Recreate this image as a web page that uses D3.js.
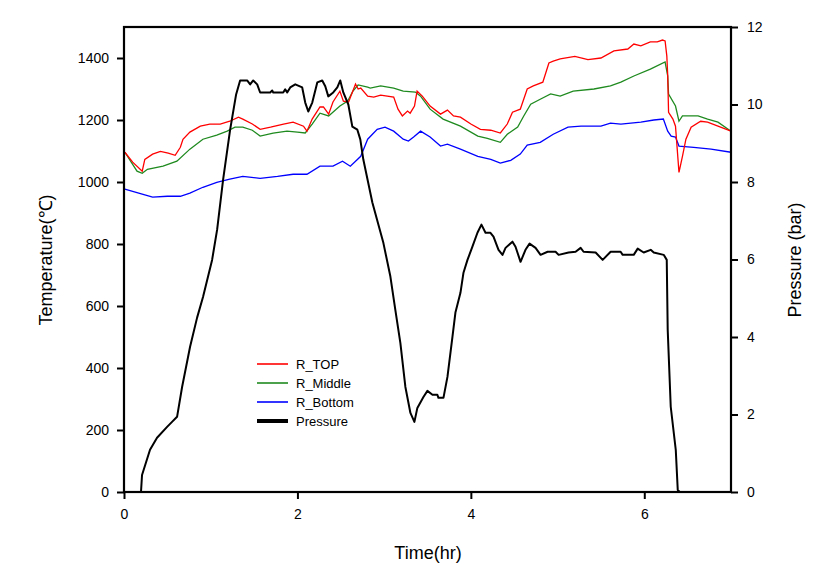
<!DOCTYPE html>
<html><head><meta charset="utf-8">
<script src="https://cdn.jsdelivr.net/npm/d3@7"></script>
<style>body{margin:0;background:#fff;}svg{display:block;font-family:"Liberation Sans",Arial,sans-serif;}</style>
</head><body><svg id="c" width="821" height="581"></svg>
<script>
// Time (hr) / value pairs
const topTime = [0.01,0.10,0.21,0.24,0.33,0.42,0.51,0.59,0.65,0.68,0.76,0.88,0.99,1.11,1.22,1.32,1.37,1.48,1.57,1.69,1.84,1.95,2.07,2.11,2.17,2.26,2.30,2.36,2.41,2.49,2.53,2.59,2.67,2.70,2.73,2.81,2.88,2.96,3.11,3.16,3.21,3.27,3.30,3.35,3.38,3.44,3.53,3.65,3.73,3.80,3.88,4.00,4.11,4.23,4.34,4.42,4.48,4.57,4.65,4.72,4.83,4.90,4.95,5.03,5.20,5.35,5.50,5.65,5.81,5.88,5.96,6.07,6.15,6.21,6.24,6.26,6.27,6.28,6.33,6.36,6.40,6.44,6.48,6.54,6.65,6.73,6.85,7.0];
const topTemp = [1096,1064,1035,1073,1090,1099,1093,1086,1112,1138,1161,1180,1187,1187,1196,1209,1203,1187,1170,1177,1187,1193,1180,1164,1203,1242,1242,1219,1258,1293,1261,1258,1316,1300,1303,1277,1274,1280,1274,1235,1213,1229,1222,1245,1293,1277,1245,1219,1232,1213,1209,1187,1170,1167,1158,1187,1225,1235,1300,1310,1322,1384,1390,1397,1405,1395,1400,1423,1429,1445,1439,1452,1452,1458,1455,1406,1345,1225,1203,1180,1031,1083,1138,1177,1196,1193,1180,1164];

const midTime = [0.01,0.15,0.21,0.27,0.45,0.61,0.76,0.91,1.07,1.19,1.28,1.37,1.48,1.57,1.72,1.88,2.00,2.09,2.17,2.26,2.36,2.49,2.58,2.64,2.70,2.81,2.84,2.96,3.11,3.22,3.36,3.42,3.53,3.68,3.88,4.08,4.19,4.34,4.42,4.54,4.61,4.69,4.80,4.92,5.03,5.18,5.42,5.61,5.73,5.88,6.07,6.24,6.27,6.28,6.36,6.40,6.44,6.62,6.73,6.85,7.0];
const midTemp = [1096,1035,1028,1041,1051,1067,1106,1138,1151,1164,1177,1177,1167,1148,1158,1164,1161,1158,1187,1222,1213,1245,1261,1293,1313,1306,1303,1310,1303,1293,1290,1277,1235,1203,1180,1148,1141,1128,1154,1177,1213,1251,1267,1284,1277,1293,1300,1310,1322,1342,1364,1387,1342,1284,1245,1196,1213,1213,1203,1193,1164];

const botTime = [0.01,0.10,0.22,0.33,0.50,0.65,0.76,0.91,1.07,1.22,1.37,1.57,1.77,1.95,2.11,2.26,2.41,2.52,2.61,2.73,2.81,2.92,3.01,3.11,3.22,3.28,3.34,3.42,3.53,3.65,3.73,3.88,4.08,4.23,4.34,4.46,4.57,4.65,4.80,4.95,5.12,5.27,5.50,5.61,5.73,5.96,6.11,6.22,6.27,6.31,6.36,6.40,6.57,6.77,7.0];
const botTemp = [977,970,960,951,954,954,964,983,999,1009,1018,1012,1018,1025,1025,1051,1051,1067,1051,1083,1138,1170,1177,1164,1138,1132,1145,1164,1145,1116,1122,1106,1083,1073,1061,1070,1090,1119,1128,1154,1177,1180,1180,1190,1187,1193,1200,1203,1164,1148,1145,1116,1112,1106,1096];

const presTime = [0,0.196,0.208,0.300,0.381,0.497,0.554,0.612,0.670,0.762,0.843,0.912,1.016,1.074,1.143,1.224,1.293,1.339,1.420,1.455,1.490,1.536,1.570,1.686,1.709,1.721,1.836,1.859,1.882,1.917,1.975,2.055,2.090,2.125,2.171,2.229,2.286,2.321,2.356,2.413,2.460,2.494,2.529,2.587,2.633,2.691,2.725,2.760,2.864,2.991,3.072,3.129,3.187,3.245,3.303,3.349,3.383,3.453,3.499,3.557,3.614,3.626,3.684,3.730,3.788,3.822,3.880,3.915,3.961,4.018,4.076,4.122,4.169,4.226,4.261,4.319,4.365,4.400,4.480,4.515,4.573,4.630,4.677,4.746,4.804,4.885,4.977,5.012,5.127,5.208,5.266,5.300,5.439,5.520,5.612,5.727,5.751,5.878,5.924,5.993,6.074,6.109,6.224,6.259,6.270,6.305,6.363,6.386,6.409,7.0];
const presVal = [0,0,0.44,1.09,1.40,1.68,1.81,1.94,2.71,3.75,4.50,5.04,5.99,6.77,8.06,9.35,10.26,10.62,10.62,10.52,10.62,10.52,10.31,10.31,10.36,10.31,10.31,10.39,10.31,10.44,10.52,10.44,10.05,9.82,10.05,10.57,10.62,10.47,10.21,10.31,10.44,10.62,10.31,10.00,9.43,9.35,9.10,8.58,7.47,6.43,5.56,4.70,3.85,2.71,2.04,1.81,2.17,2.45,2.61,2.51,2.51,2.43,2.43,2.97,4.01,4.63,5.14,5.66,5.99,6.33,6.69,6.90,6.69,6.69,6.59,6.25,6.12,6.30,6.46,6.33,5.94,6.25,6.41,6.30,6.12,6.20,6.20,6.12,6.18,6.20,6.30,6.20,6.18,5.99,6.20,6.20,6.12,6.12,6.28,6.18,6.25,6.18,6.12,5.99,4.19,2.20,1.09,0.05,0,0];

const seriesNames = ["R_TOP","R_Middle","R_Bottom","Pressure"];
const seriesColors = ["#ff0000","#1f8a1f","#0000ff","#000000"];
const xTicks = [0,2,4,6];
const yLeftTicks = [0,200,400,600,800,1000,1200,1400];
const yRightTicks = [0,2,4,6,8,10,12];

const svg = d3.select("#c");
const L=124, R=731, T=27, B=492;
const x = d3.scaleLinear().domain([0,7]).range([L,R]);
const yL = d3.scaleLinear().domain([0,1500]).range([B,T]);
const yR = d3.scaleLinear().domain([0,12]).range([B,T]);

const zip=(a,b)=>a.map((v,i)=>[v,b[i]]);
const lineL = d3.line().x(d=>x(d[0])).y(d=>yL(d[1]));
const lineR = d3.line().x(d=>x(d[0])).y(d=>yR(d[1]));

const g = svg.append("g");
g.append("path").attr("d",lineL(zip(botTime,botTemp))).attr("fill","none").attr("stroke",seriesColors[2]).attr("stroke-width",1.3);
g.append("path").attr("d",lineL(zip(midTime,midTemp))).attr("fill","none").attr("stroke",seriesColors[1]).attr("stroke-width",1.3);
g.append("path").attr("d",lineL(zip(topTime,topTemp))).attr("fill","none").attr("stroke",seriesColors[0]).attr("stroke-width",1.3);
g.append("path").attr("d",lineR(zip(presTime,presVal))).attr("fill","none").attr("stroke",seriesColors[3]).attr("stroke-width",2).attr("stroke-linejoin","round");

// axes
const ax = svg.append("g").attr("transform",`translate(0,${B})`).call(d3.axisBottom(x).tickValues(xTicks).tickSize(7).tickPadding(10).tickFormat(d3.format("d")));
const ay = svg.append("g").attr("transform",`translate(${L},0)`).call(d3.axisLeft(yL).tickValues(yLeftTicks).tickSize(7).tickPadding(8).tickFormat(d3.format("d")));
const ayr = svg.append("g").attr("transform",`translate(${R},0)`).call(d3.axisRight(yR).tickValues(yRightTicks).tickSize(7).tickPadding(9).tickFormat(d3.format("d")));
[ax,ay,ayr].forEach(a=>{
  a.select(".domain").remove();
  a.selectAll(".tick line").attr("stroke","#000").attr("stroke-width",2);
  a.selectAll("text").attr("font-size",14).attr("fill","#000").attr("font-family","Liberation Sans, Arial, sans-serif");
});
// frame
svg.append("rect").attr("x",L).attr("y",T).attr("width",R-L).attr("height",B-T).attr("fill","none").attr("stroke","#000").attr("stroke-width",2.2);

// titles
svg.append("text").attr("x",428).attr("y",559).attr("text-anchor","middle").attr("font-size",18).text("Time(hr)");
svg.append("text").attr("transform","translate(52,260) rotate(-90)").attr("text-anchor","middle").attr("font-size",18).text("Temperature(℃)");
svg.append("text").attr("transform","translate(801,260) rotate(-90)").attr("text-anchor","middle").attr("font-size",18).text("Pressure (bar)");

// legend
const lg = svg.append("g");
seriesNames.forEach((n,i)=>{
  const yy = 364 + i*19;
  lg.append("line").attr("x1",257).attr("x2",288).attr("y1",yy).attr("y2",yy).attr("stroke",seriesColors[i]).attr("stroke-width",i===3?4:1.6);
  lg.append("text").attr("x",296).attr("y",yy+4.5).attr("font-size",13).text(n);
});
</script></body></html>
